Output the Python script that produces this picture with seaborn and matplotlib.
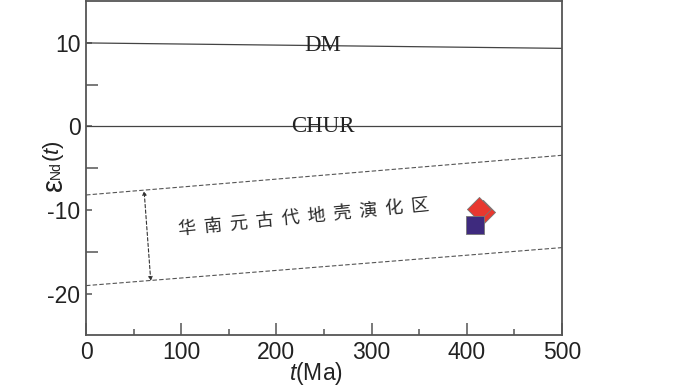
import numpy as np
import pandas as pd
import matplotlib
matplotlib.use("Agg")
import matplotlib.pyplot as plt
import seaborn as sns
from matplotlib.ticker import FixedLocator

# Dữ liệu
t_ref = [0, 500]
dm_eps = [10, 9.35]
chur_eps = [0, 0]
crust_upper = [-8.2, -3.45]
crust_lower = [-19.05, -14.5]

sample_t = [417.5, 412.8]
sample_eps = [-10.25, -9.9]
square_t = [409]
square_eps = [-11.8]

x_ticks = [0, 100, 200, 300, 400, 500]
x_minor = [50, 150, 250, 350, 450]
y_ticks = [-20, -10, 0, 10]
y_minor = [-15, -5, 5]

sns.set_theme(style="white")
plt.rcParams["font.family"] = ["Liberation Sans", "Noto Sans CJK SC", "DejaVu Sans"]
plt.rcParams["axes.unicode_minus"] = False
plt.rcParams["mathtext.fontset"] = "custom"
plt.rcParams["mathtext.rm"] = "Liberation Sans"
plt.rcParams["mathtext.it"] = "Liberation Sans:italic"
plt.rcParams["mathtext.bf"] = "Liberation Sans:bold"

fig = plt.figure(figsize=(7, 3.86), dpi=100)
ax = fig.add_axes([0.1229, 0.1313, 0.68, 0.8657])

line_c = "#444444"
sns.lineplot(x=t_ref, y=dm_eps, ax=ax, color=line_c, lw=0.9)
sns.lineplot(x=t_ref, y=chur_eps, ax=ax, color=line_c, lw=0.9)
sns.lineplot(x=t_ref, y=crust_upper, ax=ax, color="#555555", lw=0.8, linestyle=(0, (4, 2)))
sns.lineplot(x=t_ref, y=crust_lower, ax=ax, color="#555555", lw=0.8, linestyle=(0, (4, 2)))

# Mũi tên hai đầu
ax.annotate("", xy=(61, -7.7), xytext=(68, -18.5),
            arrowprops=dict(arrowstyle="<|-|>", color="#333333", lw=0.8,
                            linestyle=(0, (3, 2)), mutation_scale=6,
                            shrinkA=0, shrinkB=0))

ax.text(249, 9.65, "DM", family="Liberation Serif", fontsize=16.5,
        ha="center", va="center", color="#222222")
ax.text(249, 0, "CHUR", family="Liberation Serif", fontsize=16.5,
        ha="center", va="center", color="#222222")
ax.text(229, -10.9, "华  南  元  古  代  地  壳  演  化  区", family=["Noto Sans CJK SC"],
        fontsize=13, rotation=5.7, rotation_mode="anchor",
        ha="center", va="center", color="#2a2a2a")

# Mẫu
sns.scatterplot(x=sample_t[:1], y=sample_eps[:1], ax=ax, marker="D", s=150,
                color="#e8372f", edgecolor="#777777", linewidth=0.6, zorder=3)
sns.scatterplot(x=sample_t[1:], y=sample_eps[1:], ax=ax, marker="D", s=150,
                color="#e8372f", edgecolor="#777777", linewidth=0.6, zorder=4)
sns.scatterplot(x=square_t, y=square_eps, ax=ax, marker="s", s=160,
                color="#3e2a7e", edgecolor="#777777", linewidth=0.6, zorder=5)

ax.set_xlim(0, 500)
ax.set_ylim(-25, 15)
ax.xaxis.set_major_locator(FixedLocator(x_ticks))
ax.xaxis.set_minor_locator(FixedLocator(x_minor))
ax.yaxis.set_major_locator(FixedLocator(y_ticks))
ax.yaxis.set_minor_locator(FixedLocator(y_minor))
ax.set_xticklabels([str(v) for v in x_ticks])
ax.set_yticklabels([str(v) for v in y_ticks])

spine_c = "#555555"
for s in ax.spines.values():
    s.set_color(spine_c)
    s.set_linewidth(1.3)

ax.tick_params(axis="x", which="major", direction="in", length=8.6, width=1.1,
               color=spine_c, labelsize=16.5, pad=4, bottom=True)
ax.tick_params(axis="x", which="minor", direction="in", length=4.3, width=1.1,
               color=spine_c, bottom=True)
ax.tick_params(axis="y", which="major", direction="in", length=4.3, width=1.1,
               color=spine_c, labelsize=16.5, pad=4, left=True)
ax.tick_params(axis="y", which="minor", direction="in", length=8.6, width=1.1,
               color=spine_c, left=True)
for lab in ax.get_xticklabels() + ax.get_yticklabels():
    lab.set_color("#222222")

ax.set_xlabel(r"$\mathit{t}$(Ma)", fontsize=16.5, color="#222222", labelpad=0)
ax.xaxis.set_label_coords(0.483, -0.075)

# Nhãn trục y: ε lớn, Nd chỉ số dưới, (t)
ax.text(-0.068, 0.452, "ε", transform=ax.transAxes, rotation=90, fontsize=21,
        ha="center", va="center", color="#222222")
ax.text(-0.064, 0.494, "Nd", transform=ax.transAxes, rotation=90, fontsize=10,
        ha="center", va="center", color="#222222")
ax.text(-0.069, 0.55, r"($\mathit{t}$)", transform=ax.transAxes, rotation=90,
        fontsize=16, ha="center", va="center", color="#222222")

fig.savefig("out.png", dpi=100)
